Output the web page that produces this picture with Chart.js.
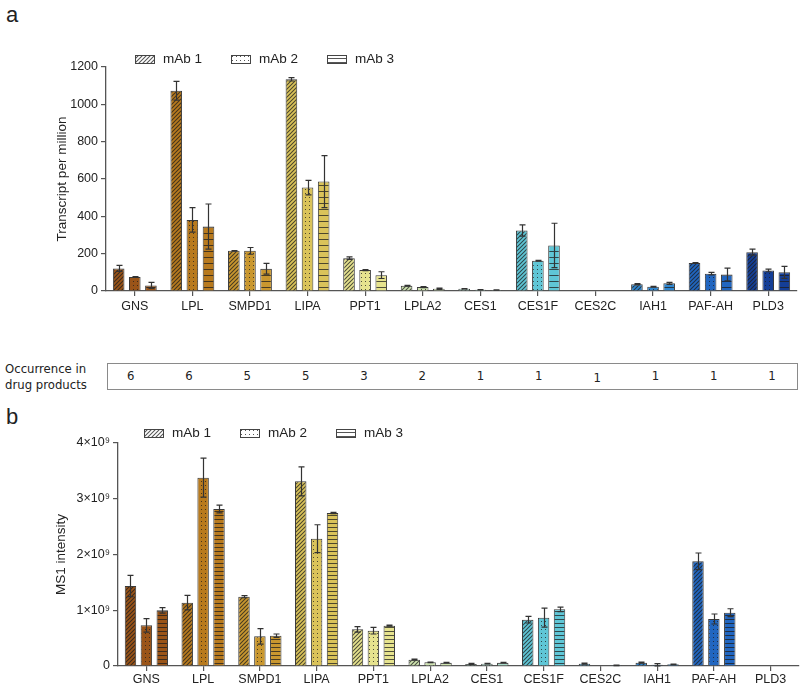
<!DOCTYPE html>
<html>
<head>
<meta charset="utf-8">
<script src="https://cdn.jsdelivr.net/npm/chart.js@4.4.1/dist/chart.umd.min.js"></script>
<style>
  body { margin: 0; width: 800px; height: 689px; position: relative; background: #fff; overflow: hidden;
    font-family: "Liberation Sans", Arial, sans-serif; color: #222; }
  .abs { position: absolute; }
  .panel { font-size: 22px; }
  .leg { position: absolute; font-size: 13.5px; line-height: 16px; display: flex; align-items: center; }
  .leg canvas { margin-right: 8px; }
  .occ { font-family: "Liberation Sans Narrow", "DejaVu Sans Condensed", sans-serif; font-size: 13px; color: #222; }
</style>
</head>
<body>
<div class="abs panel" style="left:6px;top:2px">a</div>
<div class="abs panel" style="left:6px;top:404px">b</div>
<canvas id="chartA" class="abs" style="left:0;top:0" width="800" height="320"></canvas>
<canvas id="chartB" class="abs" style="left:0;top:400px" width="800" height="289"></canvas>
<div id="legendA"></div>
<div id="legendB"></div>
<div class="abs occ" style="left:5px;top:361px;line-height:16px">Occurrence in<br>drug products</div>
<div id="occBox" class="abs occ" style="left:107px;top:363px;width:689px;height:25px;border:1px solid #8a8a8a"></div>

<script>
const categories = ['GNS', 'LPL', 'SMPD1', 'LIPA', 'PPT1', 'LPLA2', 'CES1', 'CES1F', 'CES2C', 'IAH1', 'PAF-AH', 'PLD3'];
const seriesNames = ['mAb 1', 'mAb 2', 'mAb 3'];

// panel a: transcript per million
const tpmMab1 = [121, 1073, 215, 1134, 176, 28, 12, 324, 0, 36, 150, 208];
const tpmMab2 = [75, 381, 215, 554, 112, 21, 7, 162, 0, 23, 93, 110];
const tpmMab3 = [30, 345, 119, 586, 85, 12, 5, 244, 0, 41, 89, 100];
const tpmErr1 = [16, 50, 2, 9, 7, 2, 1, 30, 0, 3, 2, 16];
const tpmErr2 = [2, 66, 18, 39, 3, 3, 1, 2, 0, 2, 7, 7];
const tpmErr3 = [16, 121, 29, 139, 18, 3, 1, 119, 0, 5, 34, 32];

// panel b: MS1 intensity
const msMab1 = [1.435e9, 1.136e9, 1.244e9, 3.312e9, 0.658e9, 0.114e9, 0.036e9, 0.831e9, 0.042e9, 0.06e9, 1.877e9, 0.006e9];
const msMab2 = [0.729e9, 3.378e9, 0.532e9, 2.284e9, 0.634e9, 0.066e9, 0.042e9, 0.867e9, 0, 0.024e9, 0.843e9, 0];
const msMab3 = [0.998e9, 2.816e9, 0.544e9, 2.744e9, 0.723e9, 0.06e9, 0.06e9, 1.016e9, 0.012e9, 0.03e9, 0.957e9, 0];
const msErr1 = [0.19e9, 0.13e9, 0.02e9, 0.26e9, 0.05e9, 0.01e9, 0.01e9, 0.06e9, 0.01e9, 0.01e9, 0.15e9, 0];
const msErr2 = [0.12e9, 0.35e9, 0.14e9, 0.25e9, 0.06e9, 0.005e9, 0.005e9, 0.17e9, 0, 0.02e9, 0.09e9, 0];
const msErr3 = [0.05e9, 0.07e9, 0.03e9, 0.01e9, 0.01e9, 0.005e9, 0.005e9, 0.04e9, 0.005e9, 0.005e9, 0.07e9, 0];

// occurrence in drug products
const occurrence = [6, 6, 5, 5, 3, 2, 1, 1, 1, 1, 1, 1];

const catColors = ['#9a5418', '#b87a1e', '#c9972f', '#dac35a', '#e6e38e', '#cfe4b0',
  '#a9dbc8', '#5fc6d6', '#3a9bd0', '#2f86cf', '#2166c0', '#143e96'];
const kinds = ['hatch', 'dots', 'lines'];
const ink = 'rgba(30,30,30,0.75)';
const FONT = '"Liberation Sans", Arial, sans-serif';

Chart.defaults.font.family = FONT;
Chart.defaults.color = '#222';

const patternCache = {};
const makePattern = (color, kind, gap) => {
  const key = `${color}-${kind}-${gap}`;
  if (patternCache[key]) return patternCache[key];
  const tile = document.createElement('canvas');
  const t = tile.getContext('2d');
  if (kind === 'hatch') {
    tile.width = 4; tile.height = 4;
    t.fillStyle = color; t.fillRect(0, 0, 4, 4);
    t.strokeStyle = ink; t.lineWidth = 1.05;
    t.beginPath();
    t.moveTo(-1, 5); t.lineTo(5, -1);
    t.moveTo(-1, 1); t.lineTo(1, -1);
    t.moveTo(3, 5); t.lineTo(5, 3);
    t.stroke();
  } else if (kind === 'dots') {
    tile.width = 4; tile.height = 4;
    t.fillStyle = color; t.fillRect(0, 0, 4, 4);
    t.fillStyle = ink; t.fillRect(1, 1, 1, 1);
  } else {
    tile.width = 4; tile.height = gap;
    t.fillStyle = color; t.fillRect(0, 0, 4, gap);
    t.fillStyle = ink; t.fillRect(0, gap - 1, 4, 1);
  }
  const p = document.createElement('canvas').getContext('2d').createPattern(tile, 'repeat');
  patternCache[key] = p;
  return p;
};

const errorBars = {
  id: 'errorBars',
  afterDatasetsDraw(chart, args, opts) {
    const { ctx } = chart;
    const yScale = chart.scales.y;
    ctx.save();
    ctx.strokeStyle = '#333';
    ctx.lineWidth = 1.2;
    chart.data.datasets.forEach((ds, i) => {
      chart.getDatasetMeta(i).data.forEach((bar, j) => {
        const err = opts.errors[i][j];
        if (!err) return;
        const v = ds.data[j];
        const top = yScale.getPixelForValue(v + err);
        const bot = yScale.getPixelForValue(Math.max(0, v - err));
        const x = Math.round(bar.x) + 0.5;
        ctx.beginPath();
        ctx.moveTo(x, top); ctx.lineTo(x, bot);
        ctx.moveTo(x - 3, top); ctx.lineTo(x + 3, top);
        ctx.moveTo(x - 3, bot); ctx.lineTo(x + 3, bot);
        ctx.stroke();
      });
    });
    ctx.restore();
  },
};

const axisGrid = {
  drawOnChartArea: false, drawTicks: true, tickLength: 5, color: '#555', lineWidth: 1.2,
};

/* eslint-disable max-len */
const createBarChart = (canvas, series, errors, yOpts, layout) => new Chart(canvas, {
  type: 'bar',
  data: {
    labels: categories,
    datasets: series.map((values, i) => ({
      label: seriesNames[i],
      data: values,
      backgroundColor: (c) => makePattern(catColors[c.dataIndex ?? 0], kinds[i], layout.lineGap),
      borderColor: '#3a3a3a',
      borderWidth: 1,
      categoryPercentage: 0.84,
      barPercentage: 0.72,
    })),
  },
  options: {
    responsive: false,
    animation: false,
    layout: { padding: layout.padding },
    scales: {
      x: {
        offset: true,
        grid: { ...axisGrid, offset: false },
        border: { color: '#555', width: 1.3 },
        ticks: { font: { size: 12.5 }, padding: layout.xPad, maxRotation: 0, autoSkip: false },
        afterFit: (s) => { s.height = layout.xHeight; },
      },
      y: {
        min: 0,
        max: yOpts.max,
        grid: axisGrid,
        border: { color: '#555', width: 1.3 },
        ticks: { stepSize: yOpts.step, font: { size: 12.5 }, padding: 3, callback: yOpts.format },
        title: { display: true, text: yOpts.title, font: { size: 13.5 }, padding: { top: 4, bottom: 0 } },
        afterFit: (s) => { s.width = layout.yWidth; },
      },
    },
    plugins: {
      legend: { display: false },
      tooltip: { enabled: false },
      errorBars: { errors },
    },
  },
  plugins: [errorBars],
});

createBarChart(
  document.getElementById('chartA'),
  [tpmMab1, tpmMab2, tpmMab3],
  [tpmErr1, tpmErr2, tpmErr3],
  { max: 1200, step: 200, title: 'Transcript per million', format: (v) => v },
  { padding: { left: 50, top: 67, right: 3, bottom: 0 }, yWidth: 56, xHeight: 29, xPad: 3, lineGap: 6 },
);

createBarChart(
  document.getElementById('chartB'),
  [msMab1, msMab2, msMab3],
  [msErr1, msErr2, msErr3],
  { max: 4e9, step: 1e9, title: 'MS1 intensity', format: (v) => (v === 0 ? '0' : `${v / 1e9}×10⁹`) },
  { padding: { left: 49, top: 43, right: 1, bottom: 0 }, yWidth: 69, xHeight: 23, xPad: 1, lineGap: 4 },
);

// legends drawn as html with pattern swatches
const buildLegend = (id, left, top, step) => {
  const host = document.getElementById(id);
  seriesNames.forEach((name, i) => {
    const item = document.createElement('div');
    item.className = 'leg';
    item.style.left = `${left + i * step}px`;
    item.style.top = `${top}px`;
    const sw = document.createElement('canvas');
    sw.width = 20; sw.height = 9;
    const g = sw.getContext('2d');
    g.fillStyle = makePattern('#ffffff', kinds[i], 4);
    g.fillRect(0, 0, 20, 9);
    g.strokeStyle = '#444'; g.lineWidth = 1;
    g.strokeRect(0.5, 0.5, 19, 8);
    item.appendChild(sw);
    const label = document.createElement('span');
    label.textContent = name;
    item.appendChild(label);
    host.appendChild(item);
  });
};
buildLegend('legendA', 135, 51, 96);
buildLegend('legendB', 144, 425, 96);

// occurrence row
const box = document.getElementById('occBox');
occurrence.forEach((n, i) => {
  const s = document.createElement('span');
  s.className = 'abs';
  s.style.left = `${23 + i * 58.3 - 4}px`;
  s.style.top = `${i === 8 ? 6 : 4}px`;
  s.textContent = n;
  box.appendChild(s);
});
</script>
</body>
</html>
